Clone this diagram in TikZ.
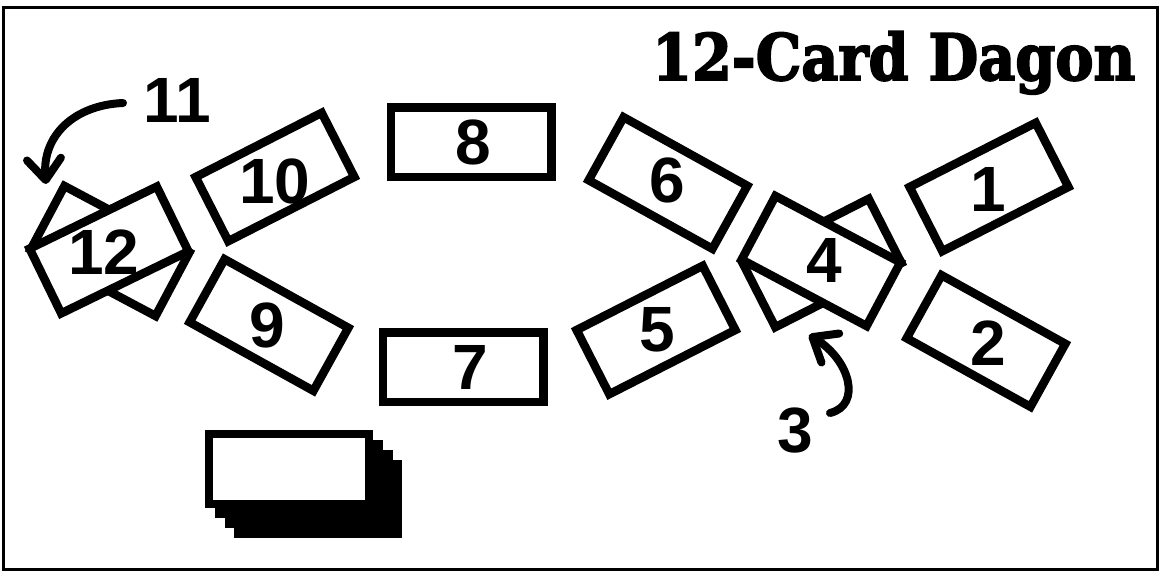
\documentclass[tikz,border=0pt]{standalone}
\usepackage{graphicx}
\usepackage{fontspec}
\setmainfont{Liberation Sans}
\newfontfamily\titlefont{DejaVu Serif}[BoldFeatures={FakeBold=3}]
\usetikzlibrary{arrows.meta}
\begin{document}
\begin{tikzpicture}[x=1pt,y=-1pt,
  card/.style={draw=black, fill=white, line width=8.5pt, minimum width=141.5pt, minimum height=72pt, inner sep=0pt},
  flatcard/.style={card, minimum width=160.5pt, minimum height=69.5pt},
  backcard/.style={fill=black, minimum width=168pt, minimum height=78pt, inner sep=0pt},
  num/.style={font=\bfseries\fontsize{64}{64}\selectfont, inner sep=0pt},
  pointer/.style={line width=8pt, line cap=round, -{Straight Barb[length=21pt, width=34pt, line cap=round, line join=round]}},
  frame/.style={draw=black, line width=3pt}]
\useasboundingbox (0,0) rectangle (1160,571);
\draw[frame] (3,7) rectangle (1157,569);

% title
\node[anchor=base west, inner sep=0pt] (title) at (652,80)
  {\titlefont\bfseries\fontsize{64}{64}\selectfont\scalebox{0.895}[1]{12-Card Dagon}};

% cards
\node[card, rotate=27]  (c1)  at (989,187) {};
\node[card, rotate=-29] (c2)  at (986,341) {};
\node[card, rotate=27]  (c3)  at (822,263) {};
\node[card, rotate=-28] (c4)  at (821,261) {};
\node[card, rotate=27]  (c5)  at (656,330) {};
\node[card, rotate=-29] (c6)  at (668,183) {};
\node[flatcard]         (c7)  at (463,367) {};
\node[flatcard]         (c8)  at (471,142) {};
\node[card, rotate=-29] (c9)  at (269,325) {};
\node[card, rotate=27]  (c10) at (275,177) {};
\node[card, rotate=-28] (c11) at (110,251) {};
\node[card, rotate=26]  (c12) at (109,250) {};

% numbers
\node[num] (n1)  at (988,189) {1};
\node[num] (n2)  at (988,343) {2};
\node[num] (n4)  at (824,260) {4};
\node[num] (n5)  at (657,330) {5};
\node[num] (n6)  at (667,180) {6};
\node[num] (n7)  at (470,367) {7};
\node[num] (n8)  at (473,142) {8};
\node[num] (n9)  at (267,325) {9};
\node[num] (n10) at (275,181) {10};
\node[num] (n12) at (104,252) {12};

% labels for hidden cards
\node[num] (l11) at (177,100) {11};
\node[num] (l3)  at (795,431) {3};

% pointers
\coordinate (s11) at (123,103);
\coordinate (t11) at (46,184);
\draw[pointer] (s11) .. controls (75,105) and (42,135) .. (t11);
\coordinate (s3) at (830,413);
\coordinate (t3) at (809,335);
\draw[pointer] (s3) .. controls (862,405) and (850,360) .. (t3);

% deck
\node[backcard] (d3) at (318,499) {};
\node[backcard] (d2) at (309,489) {};
\node[backcard] (d1) at (299,479) {};
\node[card, minimum width=160pt, minimum height=70pt, line width=8pt] (d0) at (289,469) {};
\end{tikzpicture}
\end{document}
